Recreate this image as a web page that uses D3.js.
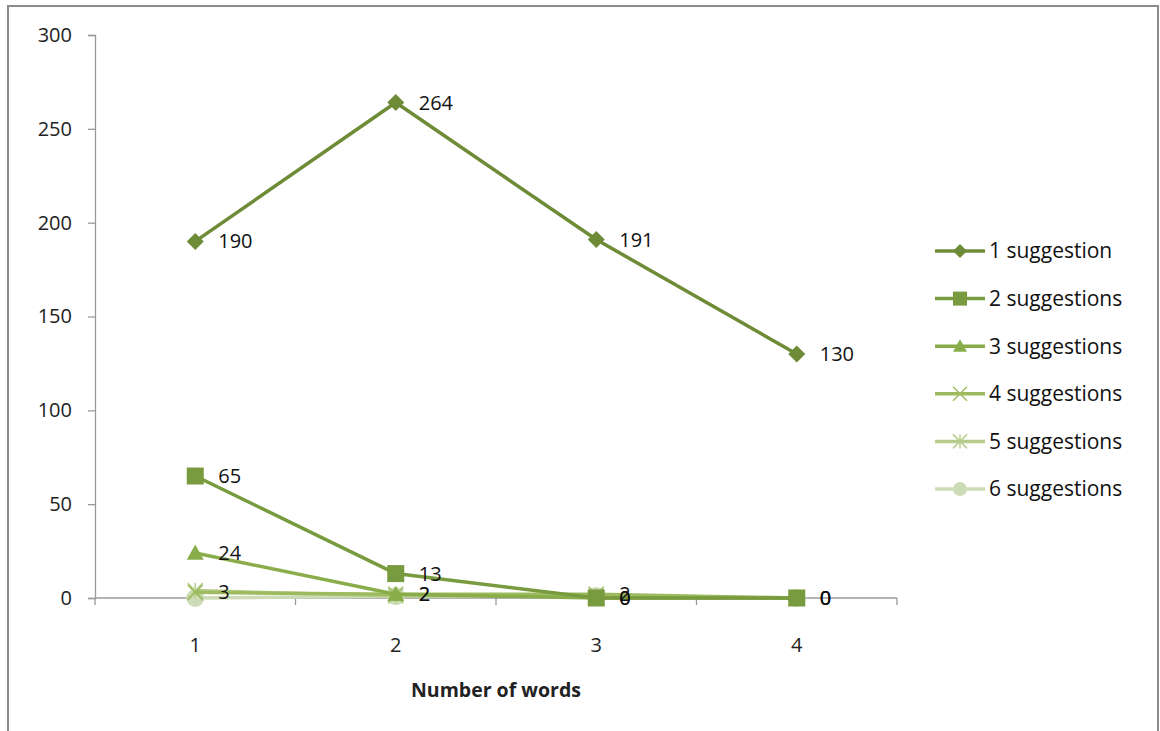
<!DOCTYPE html>
<html>
<head>
<meta charset="utf-8">
<script src="https://cdn.jsdelivr.net/npm/d3@7"></script>
<style>
  html, body { margin: 0; padding: 0; background: #fff; }
  svg { display: block; font-family: "Open Sans", sans-serif; }
</style>
</head>
<body>
<svg id="chart" width="1160" height="731"></svg>
<script>
// Number of words in the query (x categories)
const categories = [1, 2, 3, 4];
const seriesNames = ["1 suggestion", "2 suggestions", "3 suggestions", "4 suggestions", "5 suggestions", "6 suggestions"];
const s1 = [190, 264, 191, 130];
const s2 = [65, 13, 0, 0];
const s3 = [24, 2, 0, 0];
const s4 = [3, 2, 2, 0];
const s5 = [4, 1, 1, 0];
const s6 = [0, 1, 1, 0];
const seriesValues = [s1, s2, s3, s4, s5, s6];
const labelled = [true, true, true, true, false, false];
const yTicks = [0, 50, 100, 150, 200, 250, 300];
const colors = ["#6e8c37", "#789b3f", "#8aad4b", "#9dbb5e", "#b7cd8e", "#cddbb6"];
const markers = ["diamond", "square", "triangle", "x", "asterisk", "circle"];

const FONT = "'Open Sans', sans-serif";
const svg = d3.select("#chart");

// outer frame
svg.append("rect").attr("x", 8).attr("y", 6).attr("width", 1150).attr("height", 740)
  .attr("fill", "none").attr("stroke", "#8c8c8c").attr("stroke-width", 2);

const plot = { left: 95, right: 897, top: 35, bottom: 598 };

const y = d3.scaleLinear().domain([0, 300]).range([plot.bottom, plot.top]);
const xBand = d3.scaleBand().domain(categories).range([plot.left, plot.right]).padding(0);
const x = d => xBand(d) + xBand.bandwidth() / 2;

// y axis
const yAxis = d3.axisLeft(y).tickValues(yTicks).tickSize(7).tickPadding(16);
const gy = svg.append("g").attr("transform", `translate(${plot.left},0)`).call(yAxis);
gy.select(".domain").attr("stroke", "#9a9a9a").attr("stroke-width", 1.3);
gy.selectAll(".tick line").attr("stroke", "#9a9a9a").attr("stroke-width", 1.3);
gy.selectAll(".tick text").attr("font-size", 20).attr("fill", "#222").attr("font-family", FONT);

// x axis: ticks between categories
const gx = svg.append("g").attr("transform", `translate(0,${plot.bottom})`);
gx.append("line").attr("x1", plot.left).attr("x2", plot.right).attr("stroke", "#9a9a9a").attr("stroke-width", 1.3);
const boundaries = categories.map(c => xBand(c)).concat([plot.right]);
gx.selectAll("line.tk").data(boundaries).join("line").attr("class", "tk")
  .attr("x1", d => d).attr("x2", d => d).attr("y1", 0).attr("y2", 7)
  .attr("stroke", "#9a9a9a").attr("stroke-width", 1.3);
gx.selectAll("text").data(categories).join("text")
  .attr("x", d => x(d)).attr("y", 54).attr("text-anchor", "middle")
  .attr("font-size", 20).attr("fill", "#222").text(d => d);

svg.append("text").attr("x", 496).attr("y", 697).attr("text-anchor", "middle")
  .attr("font-size", 19.5).attr("font-weight", "bold").attr("fill", "#222").text("Number of words");

function drawMarker(g, type, color, size) {
  const s = size;
  if (type === "diamond") {
    const r = s / 2;
    g.append("path").attr("d", `M0,${-r}L${r},0L0,${r}L${-r},0Z`).attr("fill", color);
  } else if (type === "square") {
    g.append("rect").attr("x", -s / 2).attr("y", -s / 2).attr("width", s).attr("height", s).attr("fill", color);
  } else if (type === "triangle") {
    const r = s / 2;
    g.append("path").attr("d", `M0,${-r}L${r},${r * 0.8}L${-r},${r * 0.8}Z`).attr("fill", color);
  } else if (type === "x") {
    const r = s / 2;
    g.append("path").attr("d", `M${-r},${-r}L${r},${r}M${-r},${r}L${r},${-r}`).attr("stroke", color).attr("stroke-width", 1.5);
  } else if (type === "asterisk") {
    const r = s / 2;
    g.append("path").attr("d", `M${-r},${-r}L${r},${r}M${-r},${r}L${r},${-r}M0,${-r}L0,${r}`).attr("stroke", color).attr("stroke-width", 1.5);
  } else if (type === "circle") {
    g.append("circle").attr("r", s / 2).attr("fill", color);
  }
}

const line = d3.line().x((d, i) => x(categories[i])).y(d => y(d));
const markerSize = [17, 17, 17, 15, 15, 18];

// draw from the last series backward so the dark series stays on top
const order = d3.range(seriesValues.length).reverse();
order.forEach(si => {
  const vals = seriesValues[si];
  const g = svg.append("g");
  g.append("path").datum(vals).attr("d", line).attr("fill", "none")
    .attr("stroke", colors[si]).attr("stroke-width", 3.5).attr("stroke-linejoin", "round");
  vals.forEach((v, i) => {
    const mg = g.append("g").attr("transform", `translate(${x(categories[i])},${y(v)})`);
    drawMarker(mg, markers[si], colors[si], markerSize[si]);
  });
});

// value labels
seriesValues.forEach((vals, si) => {
  if (!labelled[si]) return;
  svg.append("g").selectAll("text").data(vals).join("text")
    .attr("x", (d, i) => x(categories[i]) + 23)
    .attr("y", d => y(d)).attr("dy", "0.35em")
    .attr("font-size", 20).attr("fill", "#111").text(d => d);
});

// legend
const legend = svg.append("g").attr("transform", "translate(935,251)");
seriesNames.forEach((name, si) => {
  const row = legend.append("g").attr("transform", `translate(0,${si * 47.6})`);
  row.append("line").attr("x1", 0).attr("x2", 50).attr("stroke", colors[si]).attr("stroke-width", 3.5);
  const mg = row.append("g").attr("transform", "translate(25,0)");
  drawMarker(mg, markers[si], colors[si], 14);
  row.append("text").attr("x", 54).attr("dy", "0.35em").attr("font-size", 21).attr("fill", "#111").text(name);
});
</script>
</body>
</html>
